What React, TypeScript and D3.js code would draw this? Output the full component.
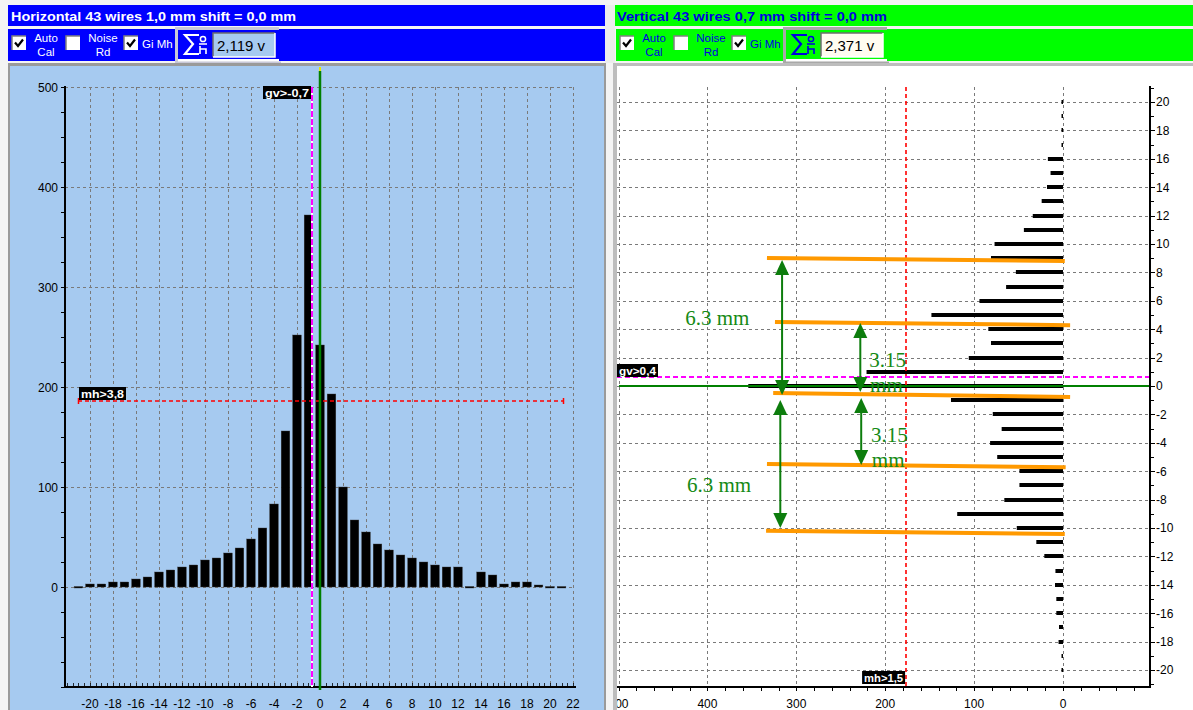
import React from 'react';
import * as d3 from 'd3';

// ---------- DATA ----------
const hWires = [-21,-20,-19,-18,-17,-16,-15,-14,-13,-12,-11,-10,-9,-8,-7,-6,-5,-4,-3,-2,-1,0,1,2,3,4,5,6,7,8,9,10,11,12,13,14,15,16,17,18,19,20,21];
const hCounts = [0,3,3,5,5,8,10,15,17,20,22,27,29,34,39,48,59,83,156,252,372,242,193,100,67,55,43,37,32,29,25,22,20,20,0,15,12,3,5,5,2,0,0];

const vWires = [-21,-20,-19,-18,-17,-16,-15,-14,-13,-12,-11,-10,-9,-8,-7,-6,-5,-4,-3,-2,-1,0,1,2,3,4,5,6,7,8,9,10,11,12,13,14,15,16,17,18,19,20,21];
const vCounts = [0,1,1,5,4.5,7.5,7.5,9,8.5,21,30,52,119,66,49,49,74,82,69,79,126,354,221,106,81,84,148,94,64,53,81,77,44,34,24,18,14,17,1,1.5,1.5,1,0];

const hYTicks = [0,100,200,300,400,500];
const hXTicks = [-20,-18,-16,-14,-12,-10,-8,-6,-4,-2,0,2,4,6,8,10,12,14,16,18,20,22];
const vXTicks = [500,400,300,200,100,0];
const vYTicks = [-20,-18,-16,-14,-12,-10,-8,-6,-4,-2,0,2,4,6,8,10,12,14,16,18,20];

const hTitle = 'Horizontal 43 wires 1,0 mm shift = 0,0 mm';
const vTitle = 'Vertical 43 wires 0,7 mm shift = 0,0 mm';
const hSum = '2,119 v';
const vSum = '2,371 v';

const hMh = 186; const hMhLabel = 'mh>3,8';
const hGv = -0.7; const hGvLabel = 'gv>-0,7';
const vMh = 176.5; const vMhLabel = 'mh>1,5';
const vGv = 0.6; const vGvLabel = 'gv>0,4';

// annotations in (value, wire) coordinates of the vertical chart
const orangeSegs = [
  [333, 9.01, -2, 8.8],
  [324, 4.5, -8, 4.28],
  [326, -0.5, -8, -0.78],
  [333, -5.5, -3, -5.72],
  [334, -10.2, -2, -10.42],
];
const arrowSegs = [
  [316, 8.87, -0.63],
  [228, 4.44, -0.42],
  [227, -0.85, -5.56],
  [318, -0.99, -10.0],
];
const noteTexts = [
  { v: 425, w: 4.32, t: '6.3 mm' },
  { v: 218, w: 1.36, t: '3.15' },
  { v: 217, w: -0.42, t: 'mm' },
  { v: 216, w: -3.92, t: '3.15' },
  { v: 215, w: -5.68, t: 'mm' },
  { v: 423, w: -7.44, t: '6.3 mm' },
];

// ---------- SCALES ----------
const xL = d3.scaleLinear().domain([-22.17, 22.17]).range([65, 575]);
const yL = d3.scaleLinear().domain([-100, 500]).range([687, 87]);
const xR = d3.scaleLinear().domain([0, 500]).range([1063, 618.5]);
const yR = d3.scaleLinear().domain([-21.2, 21.05]).range([687, 87]);

const SANS = 'Liberation Sans, Arial, sans-serif';
const SERIF = 'Liberation Serif, Times New Roman, serif';
const GRID = '#7a7a7a';
const px = (v: number) => Math.round(v) + 0.5;

function CheckBox({ x, y, checked }: { x: number; y: number; checked: boolean }) {
  return (
    <g>
      <rect x={x} y={y} width={14} height={14} fill="#fff" />
      <path d={`M${x} ${y + 14}V${y}H${x + 14}`} stroke="#808080" strokeWidth={1.5} fill="none" />
      {checked && (
        <path d={`M${x + 3} ${y + 6.5}L${x + 6} ${y + 10}L${x + 11} ${y + 3.5}`} stroke="#000" strokeWidth={2.2} fill="none" />
      )}
    </g>
  );
}

function Controls({ ox, bg, fg, boxFill, frame, sum }: any) {
  return (
    <g fontFamily={SANS}>
      <rect x={ox} y={29} width={1193} height={32} fill={bg} />
      <CheckBox x={ox + 4} y={36} checked={true} />
      <text x={ox + 38} y={42} fontSize={11.5} fill={fg} textAnchor="middle">Auto</text>
      <text x={ox + 38} y={56} fontSize={11.5} fill={fg} textAnchor="middle">Cal</text>
      <CheckBox x={ox + 58} y={36} checked={false} />
      <text x={ox + 95} y={42} fontSize={11.5} fill={fg} textAnchor="middle">Noise</text>
      <text x={ox + 95} y={56} fontSize={11.5} fill={fg} textAnchor="middle">Rd</text>
      <CheckBox x={ox + 116} y={36} checked={true} />
      <text x={ox + 134} y={48} fontSize={11.5} fill={fg}>Gi Mh</text>
      <rect x={ox + 167} y={27} width={3} height={36} fill={frame} />
      <rect x={ox + 167} y={27} width={104} height={3} fill={frame} />
      <rect x={ox + 170} y={59} width={101} height={2.5} fill="#ffffff" />
      <rect x={ox + 169} y={61.5} width={104} height={2} fill={frame} />
      <path d={`M${ox + 191} 35H${ox + 177}L${ox + 185} 44L${ox + 177} 54H${ox + 191}`} stroke={fg} strokeWidth={2.2} fill="none" />
      <circle cx={ox + 195} cy={39} r={2.6} stroke={fg} strokeWidth={1.5} fill="none" />
      <line x1={ox + 191} x2={ox + 199} y1={44} y2={44} stroke={fg} strokeWidth={1.5} />
      <path d={`M${ox + 192} 46V54M${ox + 192} 49H${ox + 198}V54`} stroke={fg} strokeWidth={1.6} fill="none" />
      <rect x={ox + 205} y={33} width={62} height={24} fill={boxFill} />
      <path d={`M${ox + 205} 57V33H${ox + 267}`} stroke="#6e6e6e" strokeWidth={1.5} fill="none" />
      <path d={`M${ox + 205} 57H${ox + 267}V33`} stroke="#ffffff" strokeWidth={1.5} fill="none" />
      <text x={ox + 209} y={51} fontSize={15} fill="#000">{sum}</text>
    </g>
  );
}

function Tag({ x, y, w, label }: { x: number; y: number; w: number; label: string }) {
  return (
    <g>
      <rect x={x} y={y} width={w} height={13} fill="#000" />
      <text x={x + 2} y={y + 10.5} fontSize={11} fontWeight="bold" fill="#fff" fontFamily={SANS}
        textLength={w - 4} lengthAdjust="spacingAndGlyphs">{label}</text>
    </g>
  );
}

function Arrow({ x, y1, y2, color }: { x: number; y1: number; y2: number; color: string }) {
  const hw = 7, hl = 15;
  return (
    <g>
      <line x1={x} x2={x} y1={y1 + hl - 2} y2={y2 - hl + 2} stroke={color} strokeWidth={2} />
      <path d={`M${x} ${y1}L${x - hw} ${y1 + hl}L${x + hw} ${y1 + hl}Z`} fill={color} />
      <path d={`M${x} ${y2}L${x - hw} ${y2 - hl}L${x + hw} ${y2 - hl}Z`} fill={color} />
    </g>
  );
}

export default function App() {
  const bwL = xL(0.375) - xL(-0.375);
  const hMinor = d3.range(-22, 22.01, 0.5);
  const hYMinor = d3.range(-100, 501, 25);
  const vXMinor = d3.range(-80, 501, 20);
  const vYMinor = d3.range(-21, 22, 1);
  const gvY = Math.round(yR(vGv));
  const mhY = Math.round(yL(hMh));

  return (
    <svg width={1193} height={710} style={{ position: 'absolute', left: 0, top: 0, background: '#fff' }}>
      <defs>
        <clipPath id="rclip"><rect x={617} y={66} width={576} height={644} /></clipPath>
      </defs>
      <rect x={0} y={0} width={1193} height={710} fill="#f4f4f4" />
      <rect x={8} y={5} width={597} height={21} fill="#0000ff" />
      <rect x={605} y={5} width={10} height={58} fill="#ececec" />
      <rect x={615} y={5} width={578} height={21} fill="#00ff00" />
      <text x={11} y={21} fontSize={13} fontWeight="bold" fill="#fff" fontFamily={SANS} textLength={285} lengthAdjust="spacingAndGlyphs">{hTitle}</text>
      <text x={617} y={21} fontSize={13} fontWeight="bold" fill="#0000e0" fontFamily={SANS} textLength={270} lengthAdjust="spacingAndGlyphs">{vTitle}</text>

      <svg x={0} y={0} width={605} height={66} overflow="hidden">
        <Controls ox={8} bg="#0000ff" fg="#fff" boxFill="#a6caf0" frame="#c8c8d8" sum={hSum} />
      </svg>
      <svg x={615} y={0} width={578} height={66} overflow="hidden">
        <g transform="translate(-615,0)">
          <Controls ox={616} bg="#00ff00" fg="#0000e0" boxFill="#fffcf0" frame="#a8a8a8" sum={vSum} />
        </g>
      </svg>

      {/* ---------- LEFT PANEL ---------- */}
      <rect x={8} y={63} width={598} height={647} fill="#9a9a9a" />
      <rect x={10} y={66} width={594} height={644} fill="#a6caf0" />

      {hYTicks.map(t => (
        <line key={'hg' + t} x1={65} x2={575} y1={px(yL(t))} y2={px(yL(t))} stroke={GRID} strokeDasharray="3,3" />
      ))}
      {hXTicks.map(t => (
        <line key={'vg' + t} x1={px(xL(t))} x2={px(xL(t))} y1={87} y2={687} stroke={GRID} strokeDasharray="3,3" />
      ))}

      {hWires.map((w, i) => {
        const v = hCounts[i];
        const y0 = yL(0);
        const h = Math.max(1.5, y0 - yL(v));
        return <rect key={'hb' + w} x={xL(w) - bwL / 2} y={v > 0 ? yL(v) : y0 - 0.5} width={bwL} height={h} fill="#000" stroke="#3a3a3a" strokeWidth={0.4} />;
      })}

      <line x1={65} x2={65} y1={86} y2={688} stroke="#000" strokeWidth={2} />
      <line x1={64} x2={576} y1={687} y2={687} stroke="#000" strokeWidth={2} />
      {hYMinor.map(t => (
        <line key={'hym' + t} x1={61} x2={65} y1={px(yL(t))} y2={px(yL(t))} stroke="#000" strokeWidth={1} />
      ))}
      {hMinor.map(t => (
        <line key={'hxm' + t} x1={px(xL(t))} x2={px(xL(t))} y1={683} y2={687} stroke="#000" strokeWidth={0.8} />
      ))}
      {hYTicks.map(t => (
        <text key={'hyl' + t} x={58} y={yL(t) + 4.5} fontSize={12} textAnchor="end" fontFamily={SANS}>{t}</text>
      ))}
      {hXTicks.map(t => (
        <text key={'hxl' + t} x={xL(t)} y={708} fontSize={12} textAnchor="middle" fontFamily={SANS}>{t}</text>
      ))}

      <line x1={78} x2={563} y1={mhY} y2={mhY} stroke="#ff0000" strokeWidth={1.6} strokeDasharray="4,3" />
      <line x1={78.5} x2={78.5} y1={mhY - 3} y2={mhY + 3} stroke="#ff0000" strokeWidth={1.5} />
      <line x1={563.5} x2={563.5} y1={mhY - 3} y2={mhY + 3} stroke="#ff0000" strokeWidth={1.5} />
      <Tag x={79} y={mhY - 14} w={47} label={hMhLabel} />
      <line x1={Math.round(xL(hGv))} x2={Math.round(xL(hGv))} y1={87} y2={687} stroke="#fff" strokeWidth={2} />
      <line x1={Math.round(xL(hGv))} x2={Math.round(xL(hGv))} y1={87} y2={687} stroke="#ff00ff" strokeWidth={2} strokeDasharray="6,2" />
      <line x1={xL(0)} x2={xL(0)} y1={71} y2={690} stroke="#008000" strokeWidth={2.5} />
      <rect x={xL(0) - 1} y={67} width={2} height={4} fill="#e8e800" />
      <Tag x={263} y={86} w={48} label={hGvLabel} />

      {/* ---------- RIGHT PANEL ---------- */}
      <rect x={613} y={63} width={580} height={647} fill="#bdbdbd" />
      <rect x={617} y={66} width={576} height={644} fill="#ffffff" />
      <g clipPath="url(#rclip)">
        {vXTicks.map(t => (
          <line key={'rvg' + t} x1={px(xR(t))} x2={px(xR(t))} y1={87} y2={687} stroke={GRID} strokeDasharray="3,3" />
        ))}
        {vYTicks.map(t => (
          <line key={'rhg' + t} x1={617} x2={1150} y1={px(yR(t))} y2={px(yR(t))} stroke={GRID} strokeDasharray="3,3" />
        ))}
        {vWires.map((w, i) => {
          const v = vCounts[i];
          if (v <= 0) return null;
          const len = Math.max(1.5, xR(0) - xR(v));
          return <rect key={'vb' + w} x={xR(0) - len} y={Math.round(yR(w)) - 2} width={len} height={4} fill="#000" />;
        })}
        <line x1={Math.round(xR(vMh))} x2={Math.round(xR(vMh))} y1={87} y2={687} stroke="#ff0000" strokeWidth={1.6} strokeDasharray="4,3" />
        <line x1={617} x2={1150} y1={gvY} y2={gvY} stroke="#ff00ff" strokeWidth={2} strokeDasharray="5,3" />
        <line x1={619} x2={1150} y1={yR(0)} y2={yR(0)} stroke="#008000" strokeWidth={2} />
        <Tag x={617} y={gvY - 13} w={41} label={vGvLabel} />
        <Tag x={xR(vMh) - 44} y={671} w={43} label={vMhLabel} />

        {orangeSegs.map((s, i) => (
          <line key={'or' + i} x1={xR(s[0])} y1={yR(s[1])} x2={xR(s[2])} y2={yR(s[3])} stroke="#ff9900" strokeWidth={4} />
        ))}
        {arrowSegs.map((a, i) => (
          <Arrow key={'ar' + i} x={xR(a[0])} y1={yR(a[1])} y2={yR(a[2])} color="#0d7d0d" />
        ))}
        {noteTexts.map((n, i) => (
          <text key={'nt' + i} x={xR(n.v)} y={yR(n.w)} fontSize={21} fill="#158a15" fontFamily={SERIF}>{n.t}</text>
        ))}

        <line x1={1150} x2={1150} y1={86} y2={688} stroke="#000" strokeWidth={2} />
        <line x1={617} x2={1151} y1={687} y2={687} stroke="#000" strokeWidth={2} />
        {vYMinor.map(t => (
          <line key={'rym' + t} x1={1150} x2={t % 2 === 0 ? 1155 : 1154} y1={px(yR(t))} y2={px(yR(t))} stroke="#000" strokeWidth={1} />
        ))}
        {vXMinor.map(t => (
          <line key={'rxm' + t} x1={px(xR(t))} x2={px(xR(t))} y1={687} y2={691} stroke="#000" strokeWidth={1} />
        ))}
        {vYTicks.map(t => (
          <text key={'ryl' + t} x={1156} y={yR(t) + 4.5} fontSize={12} fontFamily={SANS}>{t}</text>
        ))}
        {vXTicks.map(t => (
          <text key={'rxl' + t} x={xR(t)} y={708} fontSize={12} textAnchor="middle" fontFamily={SANS}>{t}</text>
        ))}
      </g>
    </svg>
  );
}
